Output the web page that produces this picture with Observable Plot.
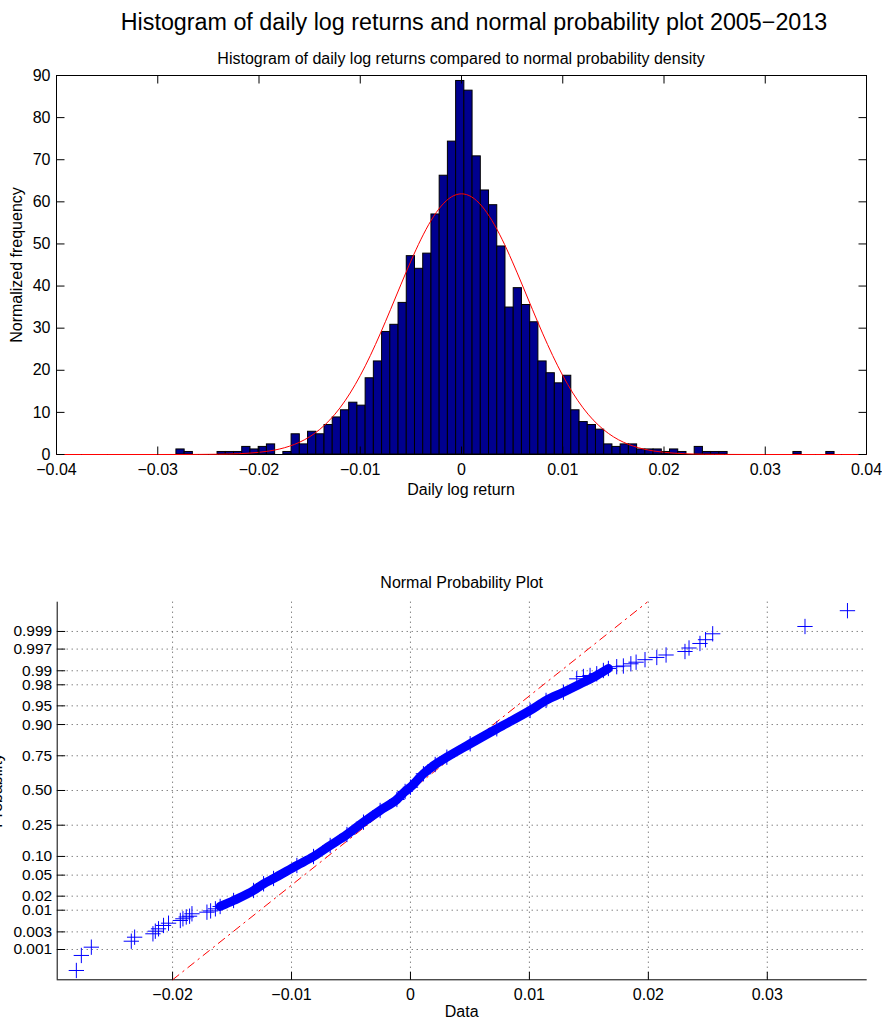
<!DOCTYPE html>
<html>
<head>
<meta charset="utf-8">
<script src="https://cdn.jsdelivr.net/npm/d3@7"></script>
<script src="https://cdn.jsdelivr.net/npm/@observablehq/plot@0.6"></script>
<style>
  html, body { margin: 0; padding: 0; background: #fff; }
  #wrap { position: relative; width: 882px; height: 1019px; overflow: hidden; background: #fff; }
  #wrap svg { position: absolute; left: 0; }
</style>
</head>
<body>
<div id="wrap"></div>
<script>
const W = 882, H = 1019;
const FONT = "'Liberation Sans', Arial, Helvetica, sans-serif";

// ---------- Histogram data ----------
const binMin = -0.02815625;
const binWidth = 0.0008125;
const binFreq = [
  1.2, 0.6, 0, 0, 0, 0.6, 0.6, 0.6, 1.8, 1.2,
  1.8, 2.4, 0, 0.6, 4.8, 2.4, 5.4, 4.8, 7.0, 8.8,
  10.5, 12.3, 11.6, 18.1, 22.1, 29.1, 30.8, 36.0, 47.1, 44.1,
  47.7, 57.0, 66.2, 74.3, 88.7, 86.4, 70.8, 62.7, 59.2, 49.4,
  34.9, 39.5, 35.5, 31.4, 22.1, 19.3, 16.9, 18.7, 10.5, 7.7,
  7.0, 5.9, 2.4, 1.8, 2.4, 2.4, 1.2, 1.2, 1.2, 0.6,
  1.2, 0.6, 0, 1.8, 0.6, 0.6, 0.6, 0, 0, 0,
  0, 0, 0, 0, 0, 0.6, 0, 0, 0, 0.6
];
const curveX = [
  -0.04, -0.035, -0.03, -0.028, -0.026, -0.025, -0.024, -0.023, -0.022, -0.021,
  -0.02, -0.019, -0.018, -0.017, -0.016, -0.015, -0.014, -0.013, -0.012, -0.011,
  -0.01, -0.009, -0.008, -0.007, -0.006, -0.005, -0.004, -0.003, -0.002, -0.001,
  0,
  0.001, 0.002, 0.003, 0.004, 0.005, 0.006, 0.007, 0.008, 0.009, 0.01,
  0.011, 0.012, 0.013, 0.014, 0.015, 0.016, 0.017, 0.018, 0.019, 0.02,
  0.021, 0.022, 0.023, 0.024, 0.025, 0.026, 0.028, 0.03, 0.035, 0.04
];
const curveY = [
  0, 0, 0, 0.005, 0.02, 0.04, 0.06, 0.11, 0.19, 0.32,
  0.52, 0.83, 1.29, 1.96, 2.91, 4.21, 5.96, 8.22, 11.08, 14.59,
  18.75, 23.52, 28.82, 34.48, 40.27, 45.92, 51.13, 55.59, 59.01, 61.17,
  61.9,
  61.17, 59.01, 55.59, 51.13, 45.92, 40.27, 34.48, 28.82, 23.52, 18.75,
  14.59, 11.08, 8.22, 5.96, 4.21, 2.91, 1.96, 1.29, 0.83, 0.52,
  0.32, 0.19, 0.11, 0.06, 0.04, 0.02, 0.005, 0, 0, 0
];
const histXTicks = [-0.04, -0.03, -0.02, -0.01, 0, 0.01, 0.02, 0.03, 0.04];
const histXLabels = ["\u22120.04", "\u22120.03", "\u22120.02", "\u22120.01", "0", "0.01", "0.02", "0.03", "0.04"];
const histYTicks = [0, 10, 20, 30, 40, 50, 60, 70, 80, 90];
const histYLabels = ["0", "10", "20", "30", "40", "50", "60", "70", "80", "90"];

// ---------- Normal probability plot data ----------
// sorted daily log returns (x) vs. standard normal quantile of plotting position (y)
const ppReturn = [
  -0.02809, -0.02767, -0.02683, -0.02347, -0.02319, -0.02165, -0.02145, -0.02118, -0.02076, -0.02034,
  -0.01935, -0.01913, -0.01885, -0.01857, -0.01837, -0.01711, -0.01680, -0.01640, -0.01600,
  -0.01487, -0.01319, -0.01235, -0.01151, -0.00955, -0.00815, -0.00675, -0.00534, -0.00395, -0.00255,
  -0.00114, -0.00045, 0.00000, 0.00109, 0.00208, 0.00306, 0.00502, 0.00726, 0.01006, 0.01140,
  0.01286, 0.01398, 0.01454, 0.01510, 0.01566, 0.01622, 0.01664,
  0.01734, 0.01790, 0.01853, 0.01897, 0.01972, 0.02071, 0.02149, 0.02308, 0.02342, 0.02434,
  0.02481, 0.02541, 0.03317, 0.03674
];
const ppQuantile = [
  -3.498, -3.206, -3.045, -2.929, -2.851, -2.785, -2.734, -2.688, -2.623, -2.579,
  -2.526, -2.493, -2.458, -2.443, -2.396, -2.365, -2.340, -2.300, -2.254,
  -2.138, -1.943, -1.813, -1.710, -1.457, -1.283, -1.069, -0.855, -0.616, -0.389,
  -0.175, -0.019, 0.064, 0.325, 0.505, 0.647, 0.908, 1.199, 1.555, 1.750,
  1.910, 2.170, 2.215, 2.235, 2.268, 2.332, 2.371,
  2.406, 2.419, 2.462, 2.493, 2.542, 2.585, 2.633, 2.701, 2.769, 2.857,
  2.930, 3.045, 3.187, 3.494
];
// centre line of the dense band of overlapping markers
const bandReturn = [
  -0.01600, -0.01487, -0.01319, -0.01235, -0.01151, -0.00955, -0.00815, -0.00675, -0.00534, -0.00395,
  -0.00255, -0.00114, -0.00045, 0.00000, 0.00109, 0.00208, 0.00306, 0.00502, 0.00726, 0.01006,
  0.01140, 0.01286, 0.01426, 0.01566, 0.01664
];
const bandQuantile = [
  -2.254, -2.138, -1.943, -1.813, -1.710, -1.457, -1.283, -1.069, -0.855, -0.616,
  -0.389, -0.175, -0.019, 0.064, 0.325, 0.505, 0.647, 0.908, 1.199, 1.555,
  1.750, 1.910, 2.070, 2.235, 2.371
];
const refReturn = [-0.0200, 0.0199];
const refQuantile = [-3.679, 3.659];
const ppXDomain = [-0.0297, 0.0384];
const ppYDomain = [-3.679, 3.659];
const ppXTicks = [-0.02, -0.01, 0, 0.01, 0.02, 0.03];
const ppXLabels = ["\u22120.02", "\u22120.01", "0", "0.01", "0.02", "0.03"];
const ppProbTicks = [0.001, 0.003, 0.01, 0.02, 0.05, 0.10, 0.25, 0.50, 0.75, 0.90, 0.95, 0.98, 0.99, 0.997, 0.999];
const ppProbLabels = ["0.001", "0.003", "0.01", "0.02", "0.05", "0.10", "0.25", "0.50", "0.75", "0.90", "0.95", "0.98", "0.99", "0.997", "0.999"];

// inverse standard normal CDF (probability-scale transform)
function probit(p) {
  const a = [-3.969683028665376e+01, 2.209460984245205e+02, -2.759285104469687e+02, 1.383577518672690e+02, -3.066479806614716e+01, 2.506628277459239e+00];
  const b = [-5.447609879822406e+01, 1.615858368580409e+02, -1.556989798598866e+02, 6.680131188771972e+01, -1.328068155288572e+01];
  const c = [-7.784894002430293e-03, -3.223964580411365e-01, -2.400758277161838e+00, -2.549732539343734e+00, 4.374664141464968e+00, 2.938163982698783e+00];
  const d = [7.784695709041462e-03, 3.224671290700398e-01, 2.445134137142996e+00, 3.754408661907416e+00];
  const pl = 0.02425;
  if (p < pl) {
    const q = Math.sqrt(-2 * Math.log(p));
    return (((((c[0]*q+c[1])*q+c[2])*q+c[3])*q+c[4])*q+c[5]) / ((((d[0]*q+d[1])*q+d[2])*q+d[3])*q+1);
  }
  if (p > 1 - pl) {
    const q = Math.sqrt(-2 * Math.log(1 - p));
    return -(((((c[0]*q+c[1])*q+c[2])*q+c[3])*q+c[4])*q+c[5]) / ((((d[0]*q+d[1])*q+d[2])*q+d[3])*q+1);
  }
  const q = p - 0.5, r = q * q;
  return (((((a[0]*r+a[1])*r+a[2])*r+a[3])*r+a[4])*r+a[5])*q / (((((b[0]*r+b[1])*r+b[2])*r+b[3])*r+b[4])*r+1);
}

// ---------- build ----------
const wrap = document.getElementById("wrap");
const vTick = { draw(ctx) { ctx.moveTo(0, -4); ctx.lineTo(0, 4); } };
const hTick = { draw(ctx) { ctx.moveTo(-4, 0); ctx.lineTo(4, 0); } };
const tickStyle = { fill: "none", stroke: "#000", strokeWidth: 1 };

const bins = binFreq.map((f, i) => ({ x1: binMin + i * binWidth, x2: binMin + (i + 1) * binWidth, f })).filter(d => d.f > 0);
const curve = curveX.map((x, i) => ({ x, y: curveY[i] }));
const hxMap = new Map(histXTicks.map((t, i) => [t, histXLabels[i]]));
const hyMap = new Map(histYTicks.map((t, i) => [t, histYLabels[i]]));

const topPlot = Plot.plot({
  width: W, height: 510,
  marginTop: 75, marginBottom: 56, marginLeft: 56, marginRight: 16,
  style: { fontFamily: FONT, fontSize: "16px", background: "none", color: "#000", overflow: "visible" },
  x: { domain: [-0.04, 0.04] },
  y: { domain: [0, 90] },
  marks: [
    Plot.frame({ stroke: "#000", strokeWidth: 1 }),
    Plot.rectY(bins, { x1: "x1", x2: "x2", y1: () => 0, y2: "f", fill: "#00008f", stroke: "#000", strokeWidth: 1 }),
    Plot.line(curve, { x: "x", y: "y", stroke: "#ff0000", strokeWidth: 1, curve: "monotone-x" }),
    Plot.dot(histXTicks, { x: d => d, y: () => 0, symbol: vTick, dy: -4, ...tickStyle }),
    Plot.dot(histXTicks, { x: d => d, y: () => 90, symbol: vTick, dy: 4, ...tickStyle }),
    Plot.dot(histYTicks, { y: d => d, x: () => -0.04, symbol: hTick, dx: 4, ...tickStyle }),
    Plot.dot(histYTicks, { y: d => d, x: () => 0.04, symbol: hTick, dx: -4, ...tickStyle }),
    Plot.axisX(histXTicks, { tickSize: 0, tickPadding: 9, tickFormat: d => hxMap.get(d), label: null }),
    Plot.axisY(histYTicks, { tickSize: 0, tickPadding: 6, tickFormat: d => hyMap.get(d), label: null })
  ]
});
topPlot.style.top = "0px";
wrap.appendChild(topPlot);

const ppPoints = ppReturn.map((x, i) => ({ x, z: ppQuantile[i] }));
const band = bandReturn.map((x, i) => ({ x, z: bandQuantile[i] }));
const ref = refReturn.map((x, i) => ({ x, z: refQuantile[i] }));
const probZ = ppProbTicks.map(probit);
const pxMap = new Map(ppXTicks.map((t, i) => [t, ppXLabels[i]]));
const pyMap = new Map(probZ.map((z, i) => [z, ppProbLabels[i]]));
const gridStyle = { stroke: "#222", strokeWidth: 1, strokeDasharray: "1,4", strokeOpacity: 0.8 };

const botPlot = Plot.plot({
  width: W, height: 459,
  marginTop: 41.7, marginBottom: 39.7, marginLeft: 56.7, marginRight: 15.3,
  style: { fontFamily: FONT, fontSize: "15.5px", background: "none", color: "#000", overflow: "visible" },
  x: { domain: ppXDomain },
  y: { domain: ppYDomain },
  marks: [
    Plot.ruleX(ppXTicks, { x: d => d, ...gridStyle }),
    Plot.ruleY(probZ, { y: d => d, ...gridStyle }),
    Plot.ruleX([ppXDomain[0]], { x: d => d, stroke: "#000", strokeWidth: 1 }),
    Plot.ruleY([ppYDomain[0]], { y: d => d, stroke: "#000", strokeWidth: 1 }),
    Plot.line(ref, { x: "x", y: "z", stroke: "#ff0000", strokeWidth: 1, strokeDasharray: "8,5,1.5,5" }),
    Plot.line(band, { x: "x", y: "z", stroke: "#0000ff", strokeWidth: 9, curve: "monotone-x" }),
    Plot.dot(ppPoints, { x: "x", y: "z", symbol: "plus", r: 5, stroke: "#0000ff", strokeWidth: 1, fill: "none" }),
    Plot.dot(ppXTicks, { x: d => d, y: () => ppYDomain[0], symbol: vTick, dy: -4, ...tickStyle }),
    Plot.dot(probZ, { y: d => d, x: () => ppXDomain[0], symbol: hTick, dx: 4, ...tickStyle }),
    Plot.axisX(ppXTicks, { tickSize: 0, tickPadding: 9, tickFormat: d => pxMap.get(d), label: null, fontSize: 16 }),
    Plot.axisY(probZ, { tickSize: 0, tickPadding: 5, tickFormat: d => pyMap.get(d), label: null })
  ]
});
botPlot.style.top = "560px";
wrap.appendChild(botPlot);

// ---------- titles and axis labels ----------
const overlay = d3.create("svg")
  .attr("width", W).attr("height", H)
  .style("top", "0px").style("pointer-events", "none")
  .style("font-family", FONT);
const texts = [
  { t: "Histogram of daily log returns and normal probability plot 2005\u22122013", x: 474, y: 29.5, s: 23.3 },
  { t: "Histogram of daily log returns compared to normal probability density", x: 461, y: 63.5, s: 16 },
  { t: "Daily log return", x: 461, y: 495, s: 16 },
  { t: "Normal Probability Plot", x: 461.7, y: 588, s: 16 },
  { t: "Data", x: 461.7, y: 1017, s: 16 }
];
for (const d of texts) {
  overlay.append("text").attr("x", d.x).attr("y", d.y).attr("text-anchor", "middle")
    .attr("font-size", d.s).attr("fill", "#000").text(d.t);
}
overlay.append("text").attr("transform", "translate(22,265) rotate(-90)").attr("text-anchor", "middle")
  .attr("font-size", 16).attr("fill", "#000").text("Normalized frequency");
overlay.append("text").attr("transform", "translate(1.5,790.5) rotate(-90)").attr("text-anchor", "middle")
  .attr("font-size", 16).attr("fill", "#000").text("Probability");
wrap.appendChild(overlay.node());
</script>
</body>
</html>
